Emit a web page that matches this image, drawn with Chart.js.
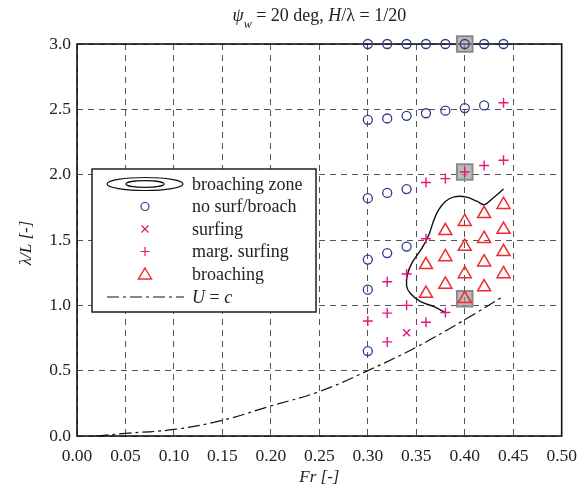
<!DOCTYPE html>
<html>
<head>
<meta charset="utf-8">
<script src="https://cdn.jsdelivr.net/npm/chart.js@4"></script>
<style>
  html, body { margin: 0; padding: 0; background: #fff; }
  #wrap { width: 587px; height: 490px; }
</style>
</head>
<body>
<div id="wrap"><canvas id="broachChart" width="587" height="490"></canvas></div>
<script>
// axis ticks
const xTickLabels = ["0.00", "0.05", "0.10", "0.15", "0.20", "0.25", "0.30", "0.35", "0.40", "0.45", "0.50"];
const yTickLabels = ["0.0", "0.5", "1.0", "1.5", "2.0", "2.5", "3.0"];

// no surf / broach (circles)
const noSurfX = [0.30, 0.32, 0.34, 0.36, 0.38, 0.40, 0.42, 0.44,
                 0.30, 0.32, 0.34, 0.36, 0.38, 0.40, 0.42,
                 0.30, 0.32, 0.34,
                 0.30, 0.32, 0.34,
                 0.30, 0.30];
const noSurfY = [3.00, 3.00, 3.00, 3.00, 3.00, 3.00, 3.00, 3.00,
                 2.42, 2.43, 2.45, 2.47, 2.49, 2.51, 2.53,
                 1.82, 1.86, 1.89,
                 1.35, 1.40, 1.45,
                 1.12, 0.65];

// surfing (x)
const surfX = [0.34];
const surfY = [0.79];

// marginal surfing (+)
const margX = [0.44, 0.36, 0.38, 0.40, 0.42, 0.44, 0.36, 0.34, 0.32, 0.34, 0.32, 0.30, 0.38, 0.36, 0.32];
const margY = [2.55, 1.94, 1.97, 2.02, 2.07, 2.11, 1.51, 1.24, 1.18, 1.00, 0.94, 0.88, 0.945, 0.87, 0.72];

// broaching (triangles)
const broachX = [0.44, 0.42, 0.40, 0.38, 0.44, 0.42, 0.40, 0.38, 0.36, 0.44, 0.42, 0.40, 0.44, 0.38, 0.42, 0.36, 0.40];
const broachY = [1.77, 1.70, 1.64, 1.57, 1.58, 1.51, 1.45, 1.37, 1.31, 1.41, 1.33, 1.24, 1.24, 1.16, 1.14, 1.09, 1.05];

// highlighted cases (grey squares)
const markX = [0.40, 0.40, 0.40];
const markY = [3.00, 2.02, 1.05];

// broaching zone boundary
const zoneX = [0.380, 0.368, 0.354, 0.344, 0.340, 0.341, 0.346, 0.356, 0.363, 0.368, 0.373, 0.380, 0.389, 0.401, 0.413, 0.420, 0.429, 0.440];
const zoneY = [0.945, 0.99, 1.03, 1.09, 1.15, 1.24, 1.33, 1.44, 1.54, 1.65, 1.73, 1.795, 1.83, 1.83, 1.795, 1.77, 1.82, 1.89];

// U = c line
const ucX = [0.02, 0.05, 0.10, 0.15, 0.20, 0.25, 0.30, 0.35, 0.40, 0.44];
const ucY = [0.00, 0.02, 0.05, 0.12, 0.23, 0.34, 0.50, 0.68, 0.89, 1.07];

const toPts = (xs, ys) => xs.map((x, i) => ({ x: x, y: ys[i] }));

const SERIF = "'Liberation Serif', 'DejaVu Serif', serif";
const BLUE = "#2f3a8e";
const MAGENTA = "#e5177d";
const RED = "#ee2a2e";

// title, axis titles, frame and legend
const decor = {
  id: "decor",
  beforeDatasetsDraw(chart) {
    const a = chart.chartArea;
    const ctx = chart.ctx;
    ctx.save();
    ctx.strokeStyle = "#111";
    ctx.lineWidth = 1.6;
    ctx.strokeRect(a.left, a.top, a.right - a.left, a.bottom - a.top);
    ctx.restore();
  },
  afterDraw(chart) {
    const ctx = chart.ctx;
    const a = chart.chartArea;
    ctx.save();
    ctx.fillStyle = "#222";
    ctx.textBaseline = "alphabetic";

    // title
    const parts = [
      ["italic 18px " + SERIF, "\u03c8", 0],
      ["italic 12px " + SERIF, "w", 7],
      ["18px " + SERIF, " = 20 deg, ", 0],
      ["italic 18px " + SERIF, "H", 0],
      ["18px " + SERIF, "/\u03bb = 1/20", 0]
    ];
    let total = 0;
    parts.forEach(p => { ctx.font = p[0]; total += ctx.measureText(p[1]).width; });
    let tx = (a.left + a.right) / 2 - total / 2;
    parts.forEach(p => {
      ctx.font = p[0];
      ctx.textAlign = "left";
      ctx.fillText(p[1], tx, 21 + p[2]);
      tx += ctx.measureText(p[1]).width;
    });

    // axis titles
    ctx.font = "italic 17px " + SERIF;
    ctx.textAlign = "center";
    ctx.fillText("Fr [-]", (a.left + a.right) / 2, 482);
    ctx.save();
    ctx.translate(31, 243);
    ctx.rotate(-Math.PI / 2);
    ctx.fillText("\u03bb/L [-]", 0, 0);
    ctx.restore();

    // legend
    const lx = 92, ly = 169, lw = 224, lh = 143;
    ctx.fillStyle = "#fff";
    ctx.fillRect(lx, ly, lw, lh);
    ctx.strokeStyle = "#111";
    ctx.lineWidth = 1.4;
    ctx.strokeRect(lx, ly, lw, lh);

    const ix = 145, textX = 192;
    const rows = [184, 206.5, 229, 251.5, 274, 297];
    // ellipse icon
    ctx.lineWidth = 1.2;
    ctx.beginPath();
    ctx.ellipse(ix, rows[0], 38, 6.5, 0, 0, Math.PI * 2);
    ctx.stroke();
    ctx.beginPath();
    ctx.ellipse(ix, rows[0], 19, 3.3, 0, 0, Math.PI * 2);
    ctx.stroke();
    // circle
    ctx.strokeStyle = BLUE;
    ctx.beginPath();
    ctx.arc(ix, rows[1], 4, 0, Math.PI * 2);
    ctx.stroke();
    // x
    ctx.strokeStyle = MAGENTA;
    ctx.beginPath();
    ctx.moveTo(ix - 3.5, rows[2] - 3.5); ctx.lineTo(ix + 3.5, rows[2] + 3.5);
    ctx.moveTo(ix + 3.5, rows[2] - 3.5); ctx.lineTo(ix - 3.5, rows[2] + 3.5);
    ctx.stroke();
    // +
    ctx.beginPath();
    ctx.moveTo(ix - 4.5, rows[3]); ctx.lineTo(ix + 4.5, rows[3]);
    ctx.moveTo(ix, rows[3] - 4.5); ctx.lineTo(ix, rows[3] + 4.5);
    ctx.stroke();
    // triangle
    ctx.strokeStyle = RED;
    ctx.lineWidth = 1.4;
    ctx.beginPath();
    ctx.moveTo(ix, rows[4] - 6); ctx.lineTo(ix + 6.5, rows[4] + 5); ctx.lineTo(ix - 6.5, rows[4] + 5);
    ctx.closePath();
    ctx.stroke();
    // dash-dot line
    ctx.strokeStyle = "#111";
    ctx.lineWidth = 1.2;
    ctx.setLineDash([12, 4, 3, 4]);
    ctx.beginPath();
    ctx.moveTo(107, rows[5]); ctx.lineTo(184, rows[5]);
    ctx.stroke();
    ctx.setLineDash([]);

    ctx.fillStyle = "#222";
    ctx.textAlign = "left";
    ctx.textBaseline = "middle";
    ctx.font = "18px " + SERIF;
    const labels = ["broaching zone", "no surf/broach", "surfing", "marg. surfing", "broaching"];
    labels.forEach((t, i) => ctx.fillText(t, textX, rows[i] + 1));
    // U = c
    let ux = textX;
    [["italic 18px " + SERIF, "U"], ["18px " + SERIF, " = "], ["italic 18px " + SERIF, "c"]].forEach(p => {
      ctx.font = p[0];
      ctx.fillText(p[1], ux, rows[5] + 1);
      ux += ctx.measureText(p[1]).width;
    });
    ctx.restore();
  }
};

new Chart(document.getElementById("broachChart"), {
  type: "scatter",
  data: {
    datasets: [
      {
        label: "broaching",
        data: toPts(broachX, broachY),
        pointStyle: "triangle",
        pointRadius: 7.5,
        pointBorderColor: RED,
        pointBackgroundColor: "rgba(0,0,0,0)",
        pointBorderWidth: 1.5,
        order: 1
      },
      {
        label: "no surf/broach",
        data: toPts(noSurfX, noSurfY),
        pointStyle: "circle",
        pointRadius: 4.5,
        pointBorderColor: BLUE,
        pointBackgroundColor: "rgba(0,0,0,0)",
        pointBorderWidth: 1.3,
        order: 1
      },
      {
        label: "surfing",
        data: toPts(surfX, surfY),
        pointStyle: "crossRot",
        pointRadius: 5,
        pointBorderColor: MAGENTA,
        pointBorderWidth: 1.4,
        order: 1
      },
      {
        label: "marg. surfing",
        data: toPts(margX, margY),
        pointStyle: "cross",
        pointRadius: 5,
        pointBorderColor: MAGENTA,
        pointBorderWidth: 1.4,
        order: 1
      },
      {
        label: "broaching zone",
        data: toPts(zoneX, zoneY),
        showLine: true,
        tension: 0.4,
        borderColor: "#111",
        borderWidth: 1.4,
        pointRadius: 0,
        order: 2
      },
      {
        label: "U = c",
        data: toPts(ucX, ucY),
        showLine: true,
        tension: 0.4,
        borderColor: "#111",
        borderWidth: 1.2,
        borderDash: [12, 4, 3, 4],
        pointRadius: 0,
        order: 2
      },
      {
        label: "cases",
        data: toPts(markX, markY),
        pointStyle: "rect",
        pointRadius: 11,
        pointBackgroundColor: "rgba(150,150,150,0.65)",
        pointBorderColor: "#8a8a8a",
        pointBorderWidth: 2,
        order: 3
      }
    ].map(d => Object.assign({ clip: false }, d))
  },
  options: {
    responsive: false,
    animation: false,
    events: [],
    layout: { padding: { top: 44, right: 25, bottom: 0, left: 0 } },
    plugins: { legend: { display: false }, title: { display: false }, tooltip: { enabled: false } },
    scales: {
      x: {
        type: "linear",
        min: 0,
        max: 0.5,
        afterFit: s => { s.height = 54; },
        afterBuildTicks: s => { s.ticks = xTickLabels.map(t => ({ value: parseFloat(t) })); },
        ticks: {
          padding: 10,
          autoSkip: false,
          maxRotation: 0,
          color: "#222",
          font: { family: SERIF, size: 17.5 },
          callback: (v, i) => xTickLabels[i]
        },
        grid: { color: "#555", lineWidth: 1, drawTicks: false },
        border: { display: false, dash: [6, 5] }
      },
      y: {
        type: "linear",
        min: 0,
        max: 3,
        afterFit: s => { s.width = 77; },
        afterBuildTicks: s => { s.ticks = yTickLabels.map(t => ({ value: parseFloat(t) })); },
        ticks: {
          padding: 6,
          autoSkip: false,
          color: "#222",
          font: { family: SERIF, size: 17.5 },
          callback: (v, i) => yTickLabels[i]
        },
        grid: { color: "#555", lineWidth: 1, drawTicks: false },
        border: { display: false, dash: [6, 5] }
      }
    }
  },
  plugins: [decor]
});
</script>
</body>
</html>
